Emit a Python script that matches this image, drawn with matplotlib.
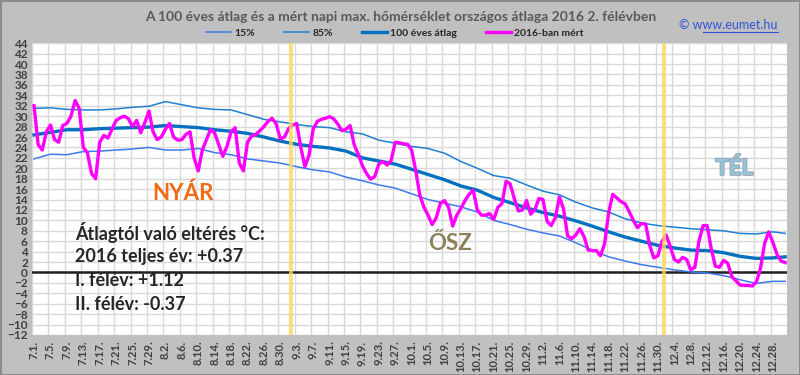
import matplotlib
matplotlib.use("Agg")
import matplotlib.pyplot as plt
import matplotlib.patheffects as pe
import numpy as np
import pandas as pd
from matplotlib.lines import Line2D

plt.rcParams['font.family'] = ['Lato', 'DejaVu Sans']

# napi max. homerseklet 2016 2. felev (jul 1 - dec 31), leolvasva
measured_2016 = [
    32, 24.5, 23.5, 27, 28.3, 25.5, 25, 28.2, 28.6, 30,
    33, 31.5, 24, 23, 19, 18, 25, 26.3, 25.8, 27.5,
    29.2, 29.7, 30, 29.5, 28, 29.2, 26.8, 28.8, 31, 27,
    25.5, 26, 27.5, 28.6, 26, 25.4, 25.5, 26.5, 27, 22,
    19.5, 23.5, 25.5, 27.4, 26.8, 24.5, 22.3, 24.2, 27, 27.8,
    21, 19.5, 25, 26.2, 26.5, 27.2, 28, 29, 29.6, 28.5,
    25.6, 26, 27.6, 28.3, 28.6, 24, 20.3, 22.5, 27.5, 29,
    29.4, 29.6, 29.9, 29.5, 28.5, 27.2, 27.5, 28.2, 24.5, 22.7,
    20.5, 19, 17.9, 18.4, 20.8, 21.3, 20.6, 21.5, 25, 24.9,
    24.7, 24.6, 23.5, 19.5, 14.8, 12.5, 11, 9.2, 10.5, 13.3,
    13.8, 12.5, 8.9, 11, 12.3, 13.8, 15, 15.8, 12, 11,
    11, 11.3, 10.2, 12.5, 13.2, 17.5, 17, 14.2, 11.8, 12,
    13.8, 11.2, 12, 14.2, 14, 9.8, 9, 10.5, 14.5, 12.2,
    7, 6.5, 7.2, 8.4, 6.9, 4.3, 4.2, 4.2, 3.2, 5.5,
    11.5, 15, 14.3, 13.6, 13.2, 11.7, 10, 8.6, 9.4, 9.3,
    5.2, 2.8, 3.2, 6, 7.2, 5, 2.5, 2, 2.9, 2.5,
    0.5, 1, 6, 9, 9, 4.5, 1.2, 1, 2.3, 1.8,
    -0.8, -1.6, -2.4, -2.5, -2.5, -2.6, -1.8, 0.8, 5.6, 7.8,
    5.8, 3.5, 2.2, 1.9,
]

# 100 eves statisztika, 4 naponkent leolvasva (nap index)
stat_days = list(range(0, 181, 4)) + [183]
p85 = [31.5, 31.6, 31.3, 31.2, 31.2, 31.4, 31.7, 31.9, 32.8, 32.2,
       31.6, 31.3, 31.2, 30.3, 29.4, 28.9, 28.4, 28.0, 27.8, 27.0,
       26.6, 25.4, 24.8, 24.2, 23.8, 22.9, 21.3, 20.0, 18.6, 18.1,
       16.8, 15.6, 14.9, 13.5, 12.4, 11.6, 10.3, 9.5, 9.0, 8.7,
       8.4, 8.2, 8.0, 7.5, 7.4, 7.8, 7.5]
mean100 = [26.4, 26.9, 27.4, 27.4, 27.6, 27.7, 27.8, 27.9, 28.2, 28.0,
           27.8, 27.4, 27.1, 26.7, 26.0, 25.2, 24.6, 24.2, 23.9, 23.3,
           22.0, 21.4, 20.8, 19.8, 18.8, 17.8, 16.6, 15.8, 14.4, 13.4,
           12.4, 11.5, 10.8, 9.9, 8.9, 7.8, 6.8, 6.0, 5.2, 4.7,
           4.3, 4.2, 3.8, 3.1, 2.7, 2.8, 3.0]
p15 = [21.8, 22.7, 22.6, 23.2, 23.3, 23.5, 23.7, 24.0, 23.5, 23.5,
       23.8, 23.0, 22.6, 21.8, 21.4, 21.0, 20.3, 19.7, 19.3, 18.3,
       17.6, 16.8, 16.2, 15.1, 14.0, 13.3, 12.6, 11.6, 10.0, 9.2,
       8.3, 7.6, 7.0, 5.7, 4.3, 3.0, 2.2, 1.5, 1.0, 0.5,
       0.1, -0.1, -0.6, -1.4, -2.1, -1.7, -1.7]

dates = pd.date_range("2016-07-01", "2016-12-31", freq="D")
tick_idx = list(range(0, len(dates), 4))
tick_labels = [f"{dates[i].month}.{dates[i].day}." for i in tick_idx]
season_marks = ["2016-09-01", "2016-12-01"]

fig = plt.figure(figsize=(8, 3.75), dpi=100, facecolor="#c0c0c0",
                 edgecolor="#8c8c8c", linewidth=2)
ax = fig.add_axes([0.04, 0.1067, 0.944, 0.778])
ax.set_facecolor("white")

days = np.arange(len(dates))
l15, = ax.plot(stat_days, p15, color="#3b7bf0", lw=1.1, label="15%", zorder=3)
l85, = ax.plot(stat_days, p85, color="#1f80d0", lw=1.1, label="85%", zorder=3)
lmean, = ax.plot(stat_days, mean100, color="#0070c0", lw=2.4,
                 label="100 éves átlag", zorder=4)
l16, = ax.plot(days, measured_2016, color="#ff00ff", lw=2.4,
               solid_joinstyle="round", label="2016-ban mért", zorder=5)

ax.axhline(0, color="#202020", lw=1.8, zorder=2)
for d in season_marks:
    i = dates.get_loc(pd.Timestamp(d))
    ax.axvline(i + 0.6, color="#ffd75a", lw=2.8, alpha=0.8, zorder=6)

ax.set_xlim(-0.5, len(dates) - 0.5)
ax.set_ylim(-12, 44)
ax.set_yticks(np.arange(-12, 45, 2))
ax.set_xticks(tick_idx)
ax.set_xticklabels(tick_labels, rotation=90)
ax.set_xticks(np.array(tick_idx) - 0.5, minor=True)
ax.grid(False)
ax.grid(True, which="minor", axis="x", color="#d9d9d9", lw=1)
ax.grid(True, which="major", axis="y", color="#d9d9d9", lw=1)
ax.set_axisbelow(True)
ax.tick_params(which="both", length=0)
ax.tick_params(axis="y", pad=3, labelsize=8.5, labelcolor="#404040")
ax.tick_params(axis="x", pad=4, labelsize=8, labelcolor="#404040")
for lab in ax.get_xticklabels() + ax.get_yticklabels():
    lab.set_fontweight("bold")
for s in ax.spines.values():
    s.set_visible(False)

fig.text(0.501, 0.955, "A 100 éves átlag és a mért napi max. hőmérséklet országos átlaga 2016 2. félévben",
         ha="center", va="center", fontsize=10, color="#595959", fontweight="bold")
fig.legend(handles=[l15, l85, lmean, l16], ncol=4, loc="center",
           bbox_to_anchor=(0.494, 0.912), frameon=False,
           prop={"size": 7.5, "weight": "bold"}, labelcolor="#262626",
           handlelength=2.4, handletextpad=0.3, columnspacing=2.8,
           borderpad=0, borderaxespad=0)

fig.text(0.972, 0.933, "© www.eumet.hu", ha="right", va="center",
         fontsize=9, color="#2f52d6")
fig.add_artist(Line2D([0.879, 0.972], [0.914, 0.914], color="#2f52d6", lw=0.8))

ax.text(0.2, 0.485, "NYÁR", transform=ax.transAxes, ha="center", va="center",
        fontsize=16, fontweight="bold", color="#f26a10")
ax.text(0.554, 0.315, "ŐSZ", transform=ax.transAxes, ha="center", va="center",
        fontsize=16, fontweight="bold", color="#8c7f5c")
ax.text(0.93, 0.572, "TÉL", transform=ax.transAxes, ha="center", va="center",
        fontsize=16, fontweight="bold", color="#93c6dc",
        path_effects=[pe.withStroke(linewidth=1.5, foreground="#9aa8b0")])

block = ["Átlagtól való eltérés °C:", "2016 teljes év: +0.37",
         "I. félév: +1.12", "II. félév: -0.37"]
for k, line in enumerate(block):
    ax.text(0.057, 0.352 - k * 0.083, line, transform=ax.transAxes,
            ha="left", va="center", fontsize=13, fontweight="bold", color="#262626")

fig.savefig("out.png", dpi=100, facecolor=fig.get_facecolor(), edgecolor=fig.get_edgecolor())
